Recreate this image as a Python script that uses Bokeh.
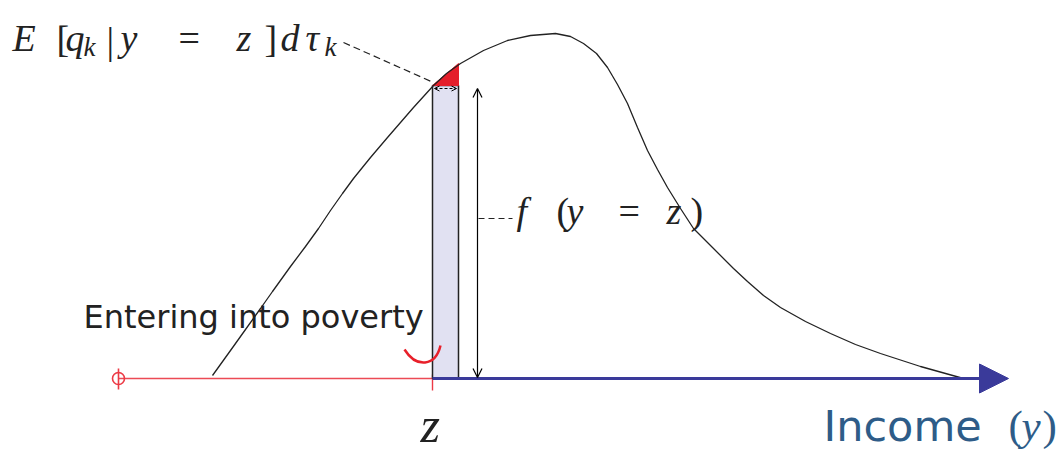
from bokeh.plotting import figure
from bokeh.models import Range1d, Arrow, OpenHead, NormalHead
from bokeh.core.properties import value
from bokeh.embed import file_html
from bokeh.resources import INLINE

# ---- data (picture coordinates, y grows downward) ----
curve_x = [212, 230, 245, 260, 272, 290, 305, 318, 330, 342, 353, 370, 387, 400, 413, 423,
           433, 446, 460, 483, 507, 530, 555, 570, 583, 596, 607, 617, 627, 637, 647,
           657, 667, 680, 693, 712, 733, 747, 763, 780, 805, 830, 855, 880, 920, 963]
curve_y = [375, 350, 329, 308, 291, 266, 246, 228, 210, 193, 178, 157, 137, 122, 107, 96,
           85, 73, 63, 50, 40, 35, 33, 36, 43, 53, 67, 84, 103, 127, 150,
           169, 187, 208, 228, 247, 268, 281, 295, 307, 321, 333, 344, 353, 366, 378]

z_x = 432            # poverty line position
bar_right = 458      # z + dz
axis_y = 378         # income axis level
f_at_z = 85          # density at z
f_at_z2 = 63         # density at z + dz
axis_start = 118
axis_end = 1008

math_font = value("Liberation Serif")
sans_font = value("DejaVu Sans")

p = figure(width=1062, height=453, x_range=Range1d(0, 1062), y_range=Range1d(453, 0),
           x_axis_type=None, y_axis_type=None, toolbar_location=None,
           output_backend="svg", min_border=0, outline_line_color=None)
p.background_fill_color = "white"

# red part of the axis (below z)
p.line([axis_start, z_x], [axis_y, axis_y], line_color="#ec4a55", line_width=1.6)
p.scatter([axis_start], [axis_y], size=12, marker="circle", fill_color=None,
          line_color="#ec3a45", line_width=1.6)
p.line([axis_start, axis_start], [axis_y - 10, axis_y + 11], line_color="#ec3a45", line_width=1.6)
p.line([z_x, z_x], [axis_y - 4, axis_y + 12], line_color="#ec3a45", line_width=1.4)

# blue part of the axis with arrow
p.add_layout(Arrow(end=NormalHead(size=29, fill_color="#3a3a9a", line_color="#3a3a9a"),
                   x_start=z_x, y_start=axis_y, x_end=axis_end, y_end=axis_y,
                   line_color="#3a3a9a", line_width=3))

# bar f(z) dz
p.quad(left=[z_x], right=[bar_right], top=[f_at_z], bottom=[axis_y],
       fill_color="#e1e1f2", line_color="#222222", line_width=1.5)
# red triangle
p.patch([z_x, bar_right, bar_right], [f_at_z, f_at_z, f_at_z2],
        fill_color="#e41e2a", line_color="#e41e2a")

# density curve
p.line(curve_x, curve_y, line_color="#222222", line_width=1.3)

# tiny dashed double arrow across the bar top
p.add_layout(Arrow(start=OpenHead(size=5, line_width=1), end=OpenHead(size=5, line_width=1),
                   x_start=z_x + 2, y_start=f_at_z + 3, x_end=bar_right - 2, y_end=f_at_z + 3,
                   line_dash="3 2", line_width=1))

# vertical double arrow f(y=z)
p.add_layout(Arrow(start=OpenHead(size=9, line_width=1.2), end=OpenHead(size=9, line_width=1.2),
                   x_start=477, y_start=axis_y - 1, x_end=477, y_end=f_at_z + 3, line_width=1.2))
p.line([478, 512], [218, 218], line_color="#222222", line_dash="6 4", line_width=1.2)

# dashed leader to the E[...] label
p.line([343, 433], [42, 82], line_color="#222222", line_dash="7 4", line_width=1.2)

# red smile arc
p.bezier(x0=[404], y0=[349], x1=[440], y1=[345], cx0=[416], cy0=[368], cx1=[435], cy1=[366],
         line_color="#e8202a", line_width=2.5)

# ---- texts ----
def t(x, y, s, size, style="italic", font=math_font, color="#222222"):
    # y is the wanted baseline; the svg text is placed ~0.37 em lower, so compensate
    px = float(size.replace("px", ""))
    p.text(x=[x], y=[y - 0.37 * px], text=[s], text_font=font, text_font_size=size,
           text_font_style=style, text_color=color, text_align="left",
           text_baseline="alphabetic")

# E [q_k | y = z ] d tau_k
t(12, 52, "E", "38px")
t(56, 53, "[", "38px", "normal")
t(65, 52, "q", "38px")
t(83, 56, "k", "27px")
t(106, 55, "|", "38px", "normal")
t(120, 52, "y", "38px")
t(178, 52, "=", "38px", "normal")
t(236, 52, "z", "38px")
t(264, 53, "]", "38px", "normal")
t(280, 52, "d", "38px")
t(305, 52, "τ", "38px")
t(324, 56, "k", "27px")

# f (y = z)
t(516, 225, "f", "38px")
t(556, 225, "(", "38px", "normal")
t(566, 225, "y", "38px")
t(618, 225, "=", "38px", "normal")
t(666, 225, "z", "38px")
t(690, 225, ")", "38px", "normal")

# Entering into poverty
t(83, 328, "Entering into poverty", "32px", "normal", sans_font, "#222222")

# z under axis
t(420, 443, "z", "50px", "italic")

# Income (y)
t(823, 441, "Income", "43px", "normal", sans_font, "#2e5c88")
t(1008, 441, "(", "43px", "normal", math_font, "#2e5c88")
t(1021, 441, "y", "43px", "italic", math_font, "#2e5c88")
t(1042, 441, ")", "43px", "normal", math_font, "#2e5c88")

open("out.html", "w").write(file_html(p, INLINE))
